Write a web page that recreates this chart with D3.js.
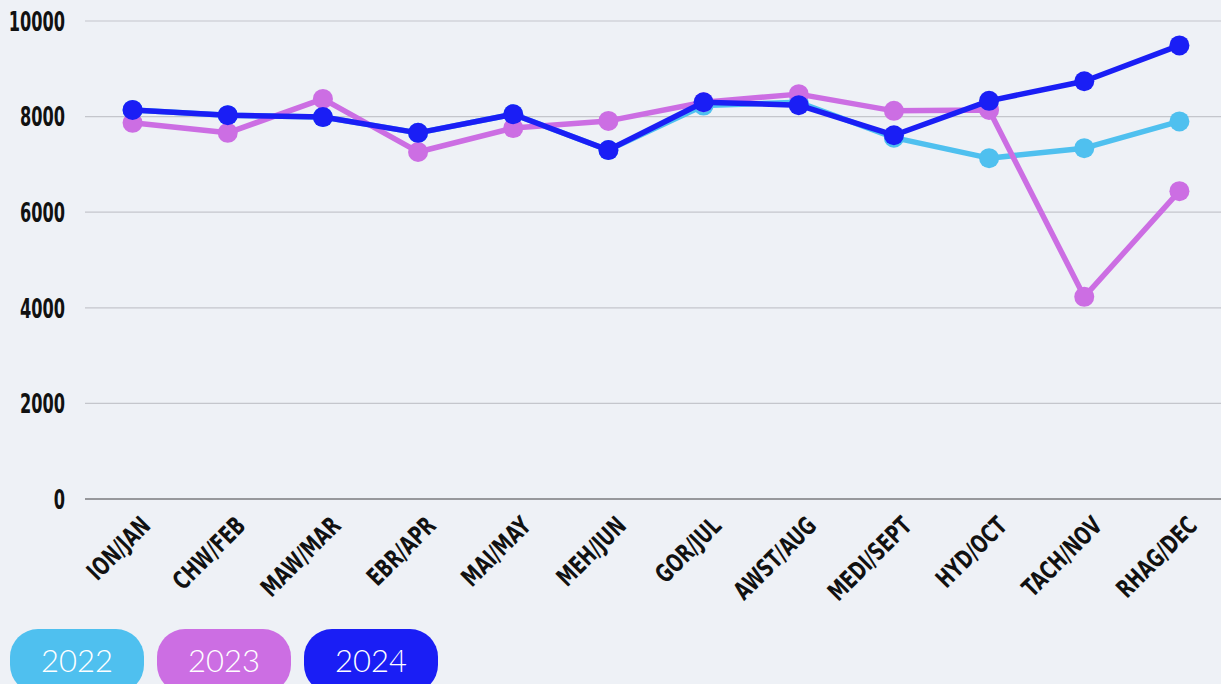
<!DOCTYPE html>
<html>
<head>
<meta charset="utf-8">
<script src="https://cdn.jsdelivr.net/npm/d3@7"></script>
<style>
  html, body { margin: 0; padding: 0; background: #eef1f6; overflow: hidden; }
  .tick-lbl { font-family: "DejaVu Sans", sans-serif; font-weight: bold; fill: #111; }
</style>
</head>
<body>
<div id="chart"></div>
<script>
var width = 1221;
var height = 684;

//Data
var months = ["ION/JAN", "CHW/FEB", "MAW/MAR", "EBR/APR", "MAI/MAY", "MEH/JUN",
  "GOR/JUL", "AWST/AUG", "MEDI/SEPT", "HYD/OCT", "TACH/NOV", "RHAG/DEC"];
var years = ["2022", "2023", "2024"];
var values2022 = [8140, 8030, 7990, 7660, 8050, 7300, 8230, 8300, 7560, 7130, 7340, 7900];
var values2023 = [7870, 7660, 8370, 7260, 7760, 7910, 8300, 8470, 8120, 8140, 4230, 6440];
var values2024 = [8140, 8030, 7990, 7660, 8050, 7300, 8300, 8240, 7610, 8330, 8740, 9490];
var yTicks = [0, 2000, 4000, 6000, 8000, 10000];
var colours = ["#4fc0ef", "#cc6ee3", "#1a1ef5"];

var series = [values2022, values2023, values2024].map(function(v, i) {
  return { year: years[i], colour: colours[i], values: v };
});

var margin = { top: 21, left: 85, bottom: 185 };

var svg = d3.select("#chart")
  .append("svg")
  .attr("width", width)
  .attr("height", height);

svg.append("rect")
  .attr("width", width)
  .attr("height", height)
  .attr("fill", "#eef1f6");

var xScale = d3.scalePoint()
  .domain(months)
  .range([margin.left, width + 6])
  .padding(0.5);

var yScale = d3.scaleLinear()
  .domain([0, 10000])
  .range([height - margin.bottom, margin.top]);

//Grid lines
svg.append("g")
  .selectAll("line")
  .data(yTicks)
  .enter().append("line")
  .attr("x1", margin.left)
  .attr("x2", width)
  .attr("y1", function(d) { return yScale(d); })
  .attr("y2", function(d) { return yScale(d); })
  .attr("stroke", function(d) { return d === 0 ? "#7a7a7e" : "#c4c6cc"; })
  .attr("stroke-width", function(d) { return d === 0 ? 1.5 : 1.2; });

//Y tick labels (squeezed to look like a condensed face)
svg.append("g")
  .selectAll("text")
  .data(yTicks)
  .enter().append("text")
  .attr("class", "tick-lbl")
  .attr("transform", function(d) { return "translate(65," + yScale(d) + ") scale(0.6,1)"; })
  .attr("dy", "0.36em")
  .attr("text-anchor", "end")
  .style("font-size", "27px")
  .text(function(d) { return d; });

//X tick labels
svg.append("g")
  .selectAll("text")
  .data(months)
  .enter().append("text")
  .attr("class", "tick-lbl")
  .attr("transform", function(d) { return "translate(" + (xScale(d) + 6) + "," + 514 + ") rotate(-45) scale(0.7,1)"; })
  .attr("text-anchor", "end")
  .attr("dy", "0.75em")
  .style("font-size", "25px")
  .text(function(d) { return d; });

//Lines and points
var line = d3.line()
  .x(function(d, i) { return xScale(months[i]); })
  .y(function(d) { return yScale(d); });

var groups = svg.append("g")
  .selectAll("g")
  .data(series)
  .enter().append("g");

groups.append("path")
  .attr("d", function(d) { return line(d.values); })
  .attr("fill", "none")
  .attr("stroke", function(d) { return d.colour; })
  .attr("stroke-width", 5.5)
  .attr("stroke-linejoin", "round");

groups.selectAll("circle")
  .data(function(d) { return d.values.map(function(v, i) { return { v: v, i: i, colour: d.colour }; }); })
  .enter().append("circle")
  .attr("cx", function(d) { return xScale(months[d.i]); })
  .attr("cy", function(d) { return yScale(d.v); })
  .attr("r", 10)
  .attr("fill", function(d) { return d.colour; });

//Legend pills
var legend = svg.append("g")
  .selectAll("g")
  .data(series)
  .enter().append("g")
  .attr("transform", function(d, i) { return "translate(" + (10 + i * 147) + ",629)"; });

legend.append("rect")
  .attr("width", 134)
  .attr("height", 64)
  .attr("rx", 28)
  .attr("fill", function(d) { return d.colour; });

legend.append("text")
  .attr("x", 67)
  .attr("y", 43)
  .attr("text-anchor", "middle")
  .style("font-family", "Lato, 'Open Sans', sans-serif")
  .style("font-weight", "300")
  .style("font-size", "31px")
  .style("fill", "#fff")
  .text(function(d) { return d.year; });
</script>
</body>
</html>
